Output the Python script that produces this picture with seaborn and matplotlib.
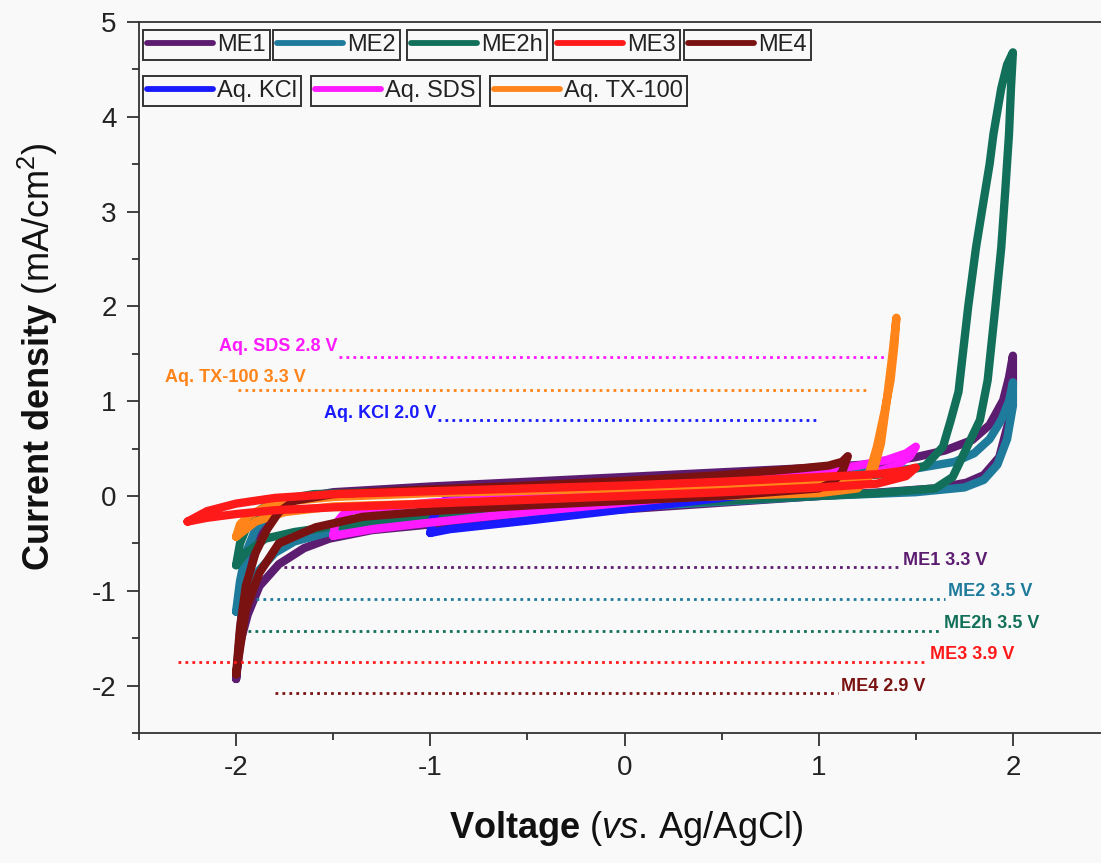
import matplotlib
matplotlib.use("Agg")
import matplotlib.pyplot as plt
from matplotlib.lines import Line2D
from matplotlib.ticker import MultipleLocator
import seaborn as sns
import pandas as pd

# ---------------- data ----------------
series_names = ["ME1", "ME2", "ME2h", "ME3", "ME4", "Aq. KCl", "Aq. SDS", "Aq. TX-100"]
series_colors = ["#5c1d70", "#1f7b9b", "#12705a", "#ff1a1a", "#7a1212",
                 "#1a1aff", "#ff1aff", "#ff841a"]

me1_v = [-2.00, -1.97, -1.93, -1.88, -1.80, -1.70, -1.50, -1.00, -0.50, 0.00, 0.50, 1.00, 1.30, 1.50,
         1.65, 1.79, 1.88, 1.95, 1.98, 2.00, 2.00, 1.98, 1.93, 1.85, 1.76, 1.60, 1.33, 1.00, 0.50,
         0.00, -0.50, -1.00, -1.30, -1.52, -1.65, -1.78, -1.88, -1.94, -1.98, -2.00]
me1_j = [-1.93, -1.20, -0.70, -0.40, -0.15, -0.03, 0.04, 0.10, 0.15, 0.20, 0.25, 0.30, 0.34, 0.41,
         0.48, 0.59, 0.75, 1.01, 1.25, 1.48, 1.15, 0.80, 0.41, 0.22, 0.14, 0.08, 0.04, 0.00, -0.07,
         -0.14, -0.21, -0.30, -0.36, -0.45, -0.55, -0.72, -0.95, -1.25, -1.55, -1.93]

me2_v = [-2.00, -1.98, -1.95, -1.90, -1.82, -1.70, -1.50, -1.00, -0.50, 0.00, 0.50, 1.00, 1.50, 1.70,
         1.80, 1.88, 1.94, 1.98, 2.00, 2.00, 1.97, 1.92, 1.85, 1.75, 1.50, 1.00, 0.50, 0.00, -0.50,
         -1.00, -1.50, -1.70, -1.80, -1.88, -1.95, -2.00]
me2_j = [-1.22, -0.90, -0.60, -0.35, -0.15, -0.04, 0.02, 0.06, 0.10, 0.13, 0.17, 0.21, 0.29, 0.36,
         0.45, 0.60, 0.80, 1.00, 1.20, 0.95, 0.60, 0.33, 0.17, 0.09, 0.04, 0.00, -0.06, -0.12, -0.18,
         -0.24, -0.37, -0.48, -0.60, -0.78, -1.00, -1.22]

me2h_v = [-2.00, -1.98, -1.94, -1.88, -1.80, -1.60, -1.00, 0.00, 1.00, 1.40, 1.55, 1.64, 1.68, 1.72,
          1.77, 1.81, 1.84, 1.88, 1.90, 1.94, 1.97, 2.00, 1.99, 1.98, 1.96, 1.94, 1.91, 1.87, 1.83,
          1.76, 1.69, 1.60, 1.30, 1.00, 0.00, -1.00, -1.50, -1.70, -1.85, -1.95, -2.00]
me2h_j = [-0.73, -0.50, -0.30, -0.15, -0.05, 0.02, 0.06, 0.12, 0.18, 0.24, 0.32, 0.52, 0.80, 1.10,
          2.00, 2.62, 3.00, 3.50, 3.82, 4.30, 4.55, 4.68, 4.30, 3.82, 3.20, 2.62, 2.00, 1.22, 0.80,
          0.50, 0.20, 0.08, 0.03, 0.00, -0.10, -0.22, -0.32, -0.38, -0.45, -0.60, -0.73]

me3_v = [-2.25, -2.15, -2.00, -1.80, -1.50, -1.00, -0.50, 0.00, 0.50, 1.00, 1.30, 1.45, 1.50, 1.45,
         1.30, 1.00, 0.50, 0.00, -0.50, -1.00, -1.50, -1.80, -2.00, -2.15, -2.25]
me3_j = [-0.27, -0.16, -0.08, -0.02, 0.02, 0.05, 0.08, 0.11, 0.15, 0.20, 0.23, 0.27, 0.30, 0.21,
         0.13, 0.09, 0.04, 0.00, -0.04, -0.08, -0.12, -0.15, -0.19, -0.23, -0.27]

me4_v = [-2.00, -1.98, -1.95, -1.90, -1.84, -1.78, -1.70, -1.50, -1.00, -0.50, 0.00, 0.50, 0.90, 1.05,
         1.12, 1.15, 1.12, 1.07, 1.00, 0.50, 0.00, -0.50, -1.00, -1.35, -1.59, -1.78, -1.88, -1.95, -2.00]
me4_j = [-1.88, -1.40, -0.95, -0.60, -0.35, -0.17, -0.05, 0.02, 0.07, 0.11, 0.16, 0.22, 0.29, 0.32,
         0.36, 0.42, 0.25, 0.14, 0.08, 0.00, -0.05, -0.10, -0.16, -0.22, -0.33, -0.50, -0.81, -1.20, -1.88]

kcl_v = [-1.00, -0.99, -0.95, -0.90, -0.50, 0.00, 0.50, 0.90, 0.97, 1.00, 0.98, 0.93, 0.50, 0.00,
         -0.50, -0.90, -1.00]
kcl_j = [-0.39, -0.25, -0.10, 0.00, 0.10, 0.15, 0.19, 0.22, 0.23, 0.24, 0.15, 0.10, -0.02, -0.14,
         -0.26, -0.35, -0.39]

sds_v = [-1.50, -1.49, -1.45, -1.40, -1.00, -0.50, 0.00, 0.50, 1.00, 1.20, 1.35, 1.45, 1.50, 1.47,
         1.40, 1.25, 1.00, 0.50, 0.00, -0.50, -1.00, -1.30, -1.50]
sds_j = [-0.42, -0.30, -0.20, -0.15, -0.07, 0.00, 0.07, 0.14, 0.26, 0.32, 0.38, 0.45, 0.52, 0.42,
         0.32, 0.22, 0.13, 0.03, -0.07, -0.17, -0.28, -0.35, -0.42]

tx_v = [-2.00, -1.98, -1.93, -1.85, -1.70, -1.50, -1.00, 0.00, 1.00, 1.20, 1.26, 1.30, 1.34, 1.37,
        1.39, 1.40, 1.38, 1.35, 1.32, 1.28, 1.20, 1.00, 0.00, -1.00, -1.50, -1.75, -1.90, -2.00]
tx_j = [-0.43, -0.30, -0.20, -0.12, -0.05, -0.01, 0.03, 0.08, 0.14, 0.18, 0.24, 0.52, 0.90, 1.22,
        1.60, 1.88, 1.50, 1.00, 0.55, 0.25, 0.08, 0.03, -0.03, -0.08, -0.11, -0.17, -0.27, -0.43]

# electrochemical windows (dotted lines)
window_series = ["Aq. SDS", "Aq. TX-100", "Aq. KCl", "ME1", "ME2", "ME2h", "ME3", "ME4"]
window_labels = ["Aq. SDS 2.8 V", "Aq. TX-100 3.3 V", "Aq. KCl 2.0 V", "ME1 3.3 V",
                 "ME2 3.5 V", "ME2h 3.5 V", "ME3 3.9 V", "ME4 2.9 V"]
window_start = [-1.47, -1.99, -0.96, -1.79, -1.90, -1.94, -2.30, -1.80]
window_end = [1.34, 1.25, 0.985, 1.42, 1.65, 1.63, 1.56, 1.10]
window_level = [1.47, 1.12, 0.80, -0.75, -1.085, -1.42, -1.75, -2.08]

x_ticks = [-2, -1, 0, 1, 2]
y_ticks = [-2, -1, 0, 1, 2, 3, 4, 5]

# ---------------- style ----------------
sns.set_style("ticks")
BG = "#f9f9f9"
plt.rcParams["font.family"] = ["Liberation Sans", "DejaVu Sans"]
plt.rcParams["axes.unicode_minus"] = False
plt.rcParams["mathtext.fontset"] = "custom"
plt.rcParams["mathtext.rm"] = "Liberation Sans"
plt.rcParams["mathtext.it"] = "Liberation Sans:italic"
plt.rcParams["mathtext.bf"] = "Liberation Sans:bold"

W, H = 1101, 863
fig = plt.figure(figsize=(W / 100, H / 100), dpi=100, facecolor=BG)
ax = fig.add_axes([139 / W, (H - 733) / H, 971 / W, 711 / H])
ax.set_facecolor(BG)

color_of = dict(zip(series_names, series_colors))
curves = {
    "ME1": (me1_v, me1_j), "ME2": (me2_v, me2_j), "ME2h": (me2h_v, me2h_j),
    "ME3": (me3_v, me3_j), "ME4": (me4_v, me4_j), "Aq. KCl": (kcl_v, kcl_j),
    "Aq. SDS": (sds_v, sds_j), "Aq. TX-100": (tx_v, tx_j),
}
draw_order = ["ME1", "ME2", "ME2h", "Aq. KCl", "Aq. SDS", "Aq. TX-100", "ME4", "ME3"]
for name in draw_order:
    v, j = curves[name]
    df = pd.DataFrame({"V": v, "J": j})
    sns.lineplot(data=df, x="V", y="J", sort=False, estimator=None, ax=ax,
                 color=color_of[name], linewidth=6.0, legend=False,
                 solid_capstyle="round", solid_joinstyle="round")

# dotted window lines + labels
label_offsets = {  # (ha, dx points, dy points, anchor)
    "Aq. SDS": ("right", -1, 7, "start"),
    "Aq. TX-100": ("right", 0, 9, "tx"),
    "Aq. KCl": ("right", -1, 5, "start"),
}
for s, lab, x0, x1, lv in zip(window_series, window_labels, window_start, window_end, window_level):
    c = color_of[s]
    ax.plot([x0, x1], [lv, lv], color=c, linewidth=2.0, linestyle=(0, (1, 1.5)))
    if s in label_offsets:
        ha, dx, dy, anc = label_offsets[s]
        xa = x0 if anc == "start" else -1.64
        ax.annotate(lab, xy=(xa, lv), xytext=(dx, dy), textcoords="offset points",
                    ha=ha, va="center", color=c, fontsize=13, fontweight="bold")
    else:
        ax.annotate(lab, xy=(x1, lv), xytext=(2, 5), textcoords="offset points",
                    ha="left", va="center", color=c, fontsize=13, fontweight="bold")

# axes
ax.set_xlim(-2.5, 2.5)
ax.set_ylim(-2.5, 5)
ax.set_xticks(x_ticks)
ax.set_yticks(y_ticks)
ax.xaxis.set_minor_locator(MultipleLocator(0.5))
ax.yaxis.set_minor_locator(MultipleLocator(0.5))
ax.tick_params(axis="both", which="major", direction="out", length=9, width=1.2,
               labelsize=20, colors="#222222", pad=7)
ax.tick_params(axis="both", which="minor", direction="out", length=5, width=1.2, colors="#222222")
ax.tick_params(top=False, right=False, which="both")
for sp in ax.spines.values():
    sp.set_visible(True)
    sp.set_color("#333333")
    sp.set_linewidth(1.3)

ax.set_xlabel(r"$\mathbf{Voltage}$ ($\mathit{vs.}\,$Ag/AgCl)", fontsize=26, color="#111111")
ax.set_ylabel(r"$\mathbf{Current\ density}$ (mA/cm$^{2}$)", fontsize=26, color="#111111")
ax.xaxis.set_label_coords(0.502, -0.134)
ax.xaxis.label.set_va("center")
ax.yaxis.set_label_coords(-0.104, 0.53)
ax.yaxis.label.set_va("center")

# legends: each entry in its own box
legend_boxes = {
    "ME1": (143, 30), "ME2": (273, 30), "ME2h": (407, 30), "ME3": (553, 30), "ME4": (684, 30),
    "Aq. KCl": (143, 76), "Aq. SDS": (311, 76), "Aq. TX-100": (490, 76),
}
for name in series_names:
    px, py = legend_boxes[name]
    h = Line2D([], [], color=color_of[name], linewidth=4.2, solid_capstyle="round")
    leg = ax.legend([h], [name], loc="upper left", bbox_to_anchor=(px / W, 1 - py / H),
                    bbox_transform=fig.transFigure, frameon=True, fancybox=False,
                    edgecolor="#333333", facecolor=BG, framealpha=1, fontsize=17,
                    handlelength=2.8, handletextpad=0.15, borderpad=0.18, borderaxespad=0)
    leg.get_frame().set_linewidth(1.4)
    for t in leg.get_texts():
        t.set_color("#222222")
    ax.add_artist(leg)

fig.savefig("out.png", dpi=100, facecolor=BG)
